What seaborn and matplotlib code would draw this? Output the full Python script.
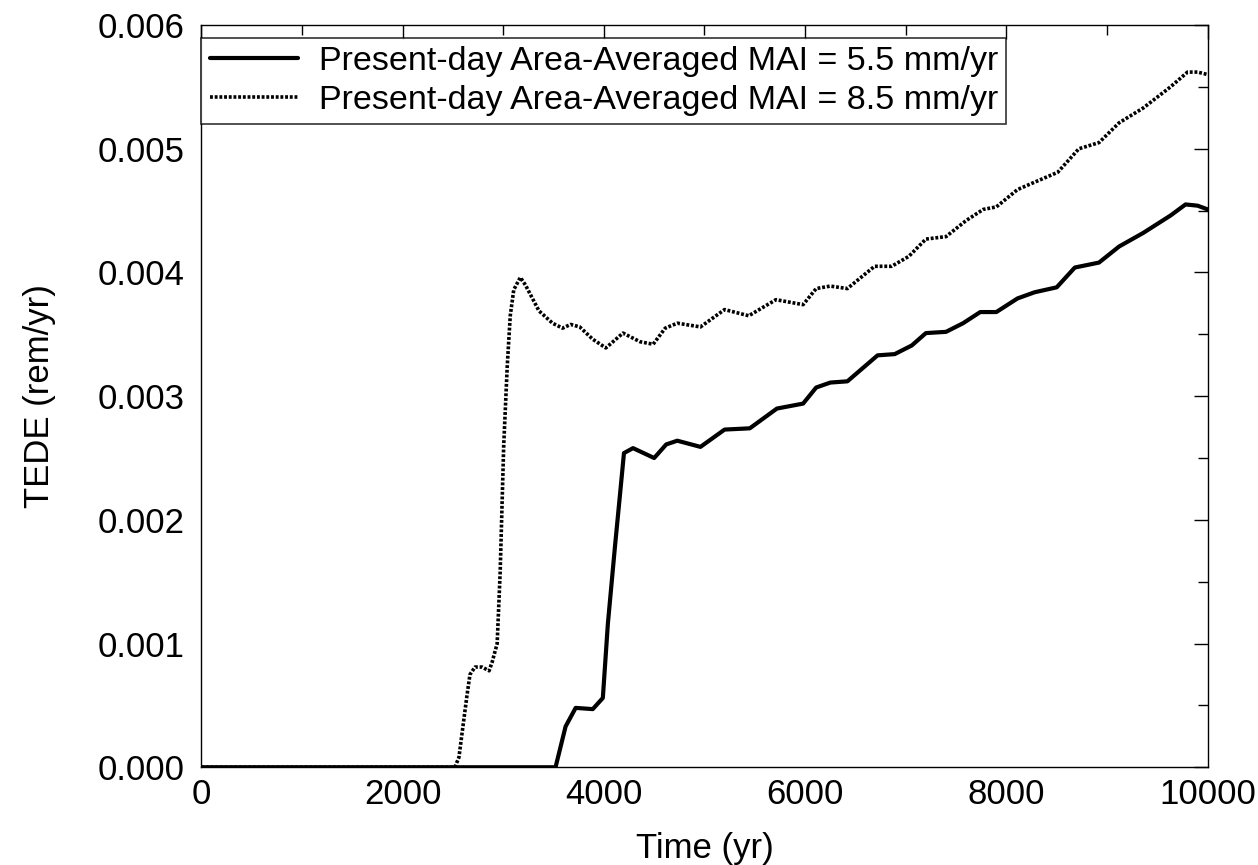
import numpy as np
import pandas as pd
import matplotlib.pyplot as plt
from matplotlib.ticker import MultipleLocator, FormatStrFormatter
import seaborn as sns

# data
time_55 = [0, 3520, 3620, 3720, 3890, 3990, 4040, 4110, 4160, 4200, 4290, 4500,
           4620, 4730, 4960, 5200, 5450, 5720, 5980, 6110, 6250, 6420, 6720,
           6890, 7060, 7200, 7400, 7570, 7740, 7900, 8110, 8280, 8500, 8680,
           8920, 9120, 9360, 9630, 9780, 9900, 10000]
tede_55 = [0, 0, 0.00033, 0.00048, 0.00047, 0.00056, 0.00116, 0.00178, 0.0022,
           0.00254, 0.00258, 0.0025, 0.00261, 0.00264, 0.00259, 0.00273,
           0.00274, 0.0029, 0.00294, 0.00307, 0.00311, 0.00312, 0.00333,
           0.00334, 0.00341, 0.00351, 0.00352, 0.00359, 0.00368, 0.00368,
           0.00379, 0.00384, 0.00388, 0.00404, 0.00408, 0.00421, 0.00432,
           0.00446, 0.00455, 0.00454, 0.00451]

time_85 = [0, 2520, 2560, 2600, 2640, 2670, 2720, 2790, 2860, 2890, 2940, 2970,
           3005, 3040, 3070, 3105, 3170, 3220, 3355, 3490, 3590, 3670, 3760,
           3890, 4020, 4190, 4360, 4490, 4610, 4730, 4960, 5200, 5440, 5710,
           5980, 6110, 6250, 6420, 6690, 6860, 7030, 7200, 7400, 7600, 7770,
           7900, 8110, 8280, 8510, 8720, 8920, 9120, 9360, 9630, 9800, 9900,
           10000]
tede_85 = [0, 0, 0.00008, 0.00033, 0.00058, 0.00075, 0.00081, 0.00081, 0.00078,
           0.00085, 0.001, 0.00158, 0.0026, 0.00324, 0.00365, 0.00386, 0.00396,
           0.0039, 0.00369, 0.00359, 0.00355, 0.00358, 0.00356, 0.00346,
           0.00339, 0.00351, 0.00344, 0.00342, 0.00355, 0.00359, 0.00356,
           0.0037, 0.00365, 0.00378, 0.00374, 0.00387, 0.00389, 0.00387,
           0.00405, 0.00405, 0.00413, 0.00427, 0.00429, 0.00442, 0.00451,
           0.00453, 0.00467, 0.00473, 0.00481, 0.005, 0.00505, 0.00521,
           0.00533, 0.0055, 0.00562, 0.00562, 0.0056]

labels = ['Present-day Area-Averaged MAI = 5.5 mm/yr',
          'Present-day Area-Averaged MAI = 8.5 mm/yr']

sns.set_style('white')
plt.rcParams['font.family'] = ['Liberation Sans', 'DejaVu Sans']
plt.rcParams['text.color'] = 'black'
plt.rcParams['axes.labelcolor'] = 'black'
plt.rcParams['xtick.color'] = 'black'
plt.rcParams['ytick.color'] = 'black'

df55 = pd.DataFrame({'time': time_55, 'tede': tede_55})
df85 = pd.DataFrame({'time': time_85, 'tede': tede_85})

fig = plt.figure(figsize=(12.58, 8.65), dpi=100)
ax = fig.add_axes([0.16, 0.113, 0.80, 0.858])

sns.lineplot(data=df55, x='time', y='tede', ax=ax, color='black', lw=3.0,
             estimator=None, sort=False, label=labels[0])
sns.lineplot(data=df85, x='time', y='tede', ax=ax, color='black', lw=2.6,
             estimator=None, sort=False, label=labels[1],
             linestyle=(0, (0.8, 0.5)))

ax.set_xlim(0, 10000)
ax.set_ylim(0, 0.006)
ax.xaxis.set_major_locator(MultipleLocator(2000))
ax.xaxis.set_minor_locator(MultipleLocator(1000))
ax.yaxis.set_major_locator(MultipleLocator(0.001))
ax.yaxis.set_minor_locator(MultipleLocator(0.0005))
ax.yaxis.set_major_formatter(FormatStrFormatter('%.3f'))
ax.tick_params(which='both', direction='in', top=True, right=True,
               labelsize=25, width=1.0, color='black', labelcolor='black')
ax.tick_params(which='major', length=10)
ax.tick_params(which='minor', length=7)
ax.tick_params(axis='y', pad=12)
ax.tick_params(axis='x', pad=8)
for s in ax.spines.values():
    s.set_color('black')
    s.set_linewidth(1.0)

ax.set_xlabel('Time (yr)', fontsize=25, labelpad=15)
ax.set_ylabel('TEDE (rem/yr)', fontsize=25, labelpad=30)

leg = ax.legend(loc='upper left', bbox_to_anchor=(0.0, 0.983), fontsize=24.5,
                frameon=True, fancybox=False, edgecolor='black',
                borderaxespad=0, handlelength=2.6, handletextpad=0.6,
                borderpad=0.25, labelspacing=0.22)
leg.get_frame().set_linewidth(1.2)
for t in leg.get_texts():
    t.set_color('black')

fig.savefig('out.png', dpi=100)
